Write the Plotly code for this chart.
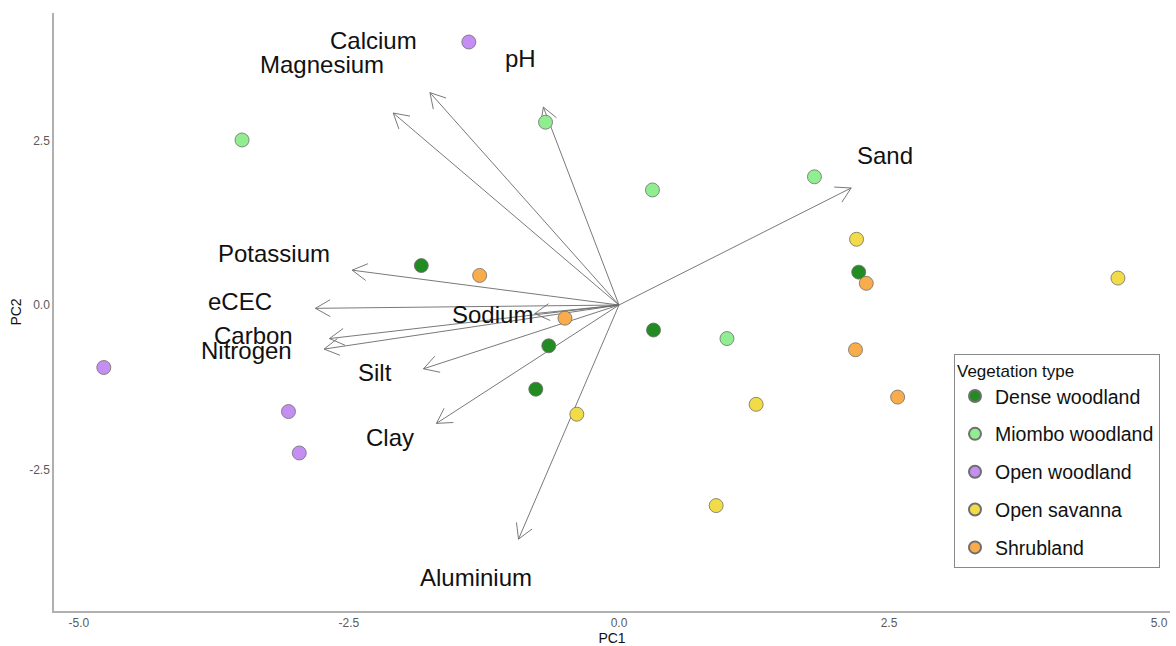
import math
import plotly.graph_objects as go

# ---------------- data ----------------
groups = ["Dense woodland", "Miombo woodland", "Open woodland", "Open savanna", "Shrubland"]
group_colors = ["#228B22", "#90EE90", "#C48EF2", "#F1DC48", "#F9AC4C"]

dense_x = [-1.83, 2.22, 0.32, -0.65, -0.77]
dense_y = [0.60, 0.50, -0.38, -0.62, -1.28]
miombo_x = [-3.49, -0.68, 0.31, 1.81, 1.00]
miombo_y = [2.51, 2.78, 1.75, 1.95, -0.51]
openwood_x = [-1.39, -4.77, -3.06, -2.96]
openwood_y = [4.00, -0.95, -1.62, -2.25]
savanna_x = [2.20, 4.62, -0.39, 1.27, 0.90]
savanna_y = [1.00, 0.41, -1.66, -1.51, -3.05]
shrub_x = [2.29, -1.29, -0.50, 2.19, 2.58]
shrub_y = [0.33, 0.45, -0.20, -0.68, -1.40]

variables = ["Calcium", "Magnesium", "pH", "Sand", "Potassium", "eCEC", "Carbon",
             "Nitrogen", "Sodium", "Silt", "Clay", "Aluminium"]
load_x = [-1.75, -2.09, -0.70, 2.15, -2.47, -2.81, -2.68, -2.73, -0.78, -1.81, -1.69, -0.93]
load_y = [3.23, 2.92, 3.01, 1.78, 0.53, -0.05, -0.51, -0.67, -0.13, -0.97, -1.80, -3.56]
label_x = [-2.27, -2.75, -0.91, 2.46, -3.19, -3.51, -3.38, -3.45, -1.17, -2.26, -2.12, -1.32]
label_y = [4.02, 3.66, 3.75, 2.28, 0.79, 0.06, -0.47, -0.69, -0.14, -1.03, -2.02, -4.14]

x_ticks = [-5.0, -2.5, 0.0, 2.5, 5.0]
y_ticks = [-2.5, 0.0, 2.5]

# ---------------- layout geometry ----------------
W, H = 1176, 646
ML, MR, MT, MB = 54, 6, 13, 31
x_range = [-5.231, 5.102]
y_range = [-4.653, 4.441]
px_per_x = (W - ML - MR) / (x_range[1] - x_range[0])
px_per_y = (H - MT - MB) / (y_range[1] - y_range[0])

fig = go.Figure()

# ---------------- arrows (shaft + open head) ----------------
head_len = 17.0
head_ang = math.radians(30)
ax_all, ay_all = [], []
for lx, ly in zip(load_x, load_y):
    ax_all += [0, lx, None]
    ay_all += [0, ly, None]
    dxp = -lx * px_per_x
    dyp = -ly * px_per_y
    n = math.hypot(dxp, dyp)
    ux, uy = dxp / n, dyp / n
    for s in (1, -1):
        c, si = math.cos(s * head_ang), math.sin(s * head_ang)
        rx = ux * c - uy * si
        ry = ux * si + uy * c
        ax_all += [lx, lx + rx * head_len / px_per_x, None]
        ay_all += [ly, ly + ry * head_len / px_per_y, None]

fig.add_trace(go.Scatter(x=ax_all, y=ay_all, mode="lines",
                         line=dict(color="#6a6a6a", width=0.9),
                         hoverinfo="skip", showlegend=False))

# ---------------- points ----------------
series = [(dense_x, dense_y), (miombo_x, miombo_y), (openwood_x, openwood_y),
          (savanna_x, savanna_y), (shrub_x, shrub_y)]
for name, col, (xs, ys) in zip(groups, group_colors, series):
    fig.add_trace(go.Scatter(
        x=xs, y=ys, mode="markers", name=name, legendgroup=name,
        marker=dict(size=14, color=col, line=dict(color="#6f6f6f", width=0.8)),
    ))

# ---------------- variable labels ----------------
for name, tx, ty in zip(variables, label_x, label_y):
    fig.add_annotation(x=tx, y=ty, text=name, showarrow=False,
                       font=dict(family="Arial, Liberation Sans", size=24, color="#111111"),
                       xanchor="center", yanchor="middle")

axis_common = dict(showgrid=False, zeroline=False, showline=True,
                   linecolor="#b0b0b0", linewidth=1.5, ticks="",
                   tickfont=dict(family="Arial, Liberation Sans", size=12, color="#5a5a5a"),
                   title_font=dict(family="Arial, Liberation Sans", size=14, color="#111111"))

fig.update_layout(
    width=W, height=H,
    margin=dict(l=ML, r=MR, t=MT, b=MB),
    paper_bgcolor="white", plot_bgcolor="white",
    xaxis=dict(range=x_range, tickvals=x_ticks, ticktext=[f"{v:.1f}" for v in x_ticks],
               title=dict(text="PC1", standoff=0), **axis_common),
    yaxis=dict(range=y_range, tickvals=y_ticks, ticktext=[f"{v:.1f}" for v in y_ticks],
               title=dict(text="PC2", standoff=4), **axis_common),
    legend=dict(
        title=dict(text="Vegetation type", font=dict(family="Arial, Liberation Sans", size=17, color="#111111")),
        font=dict(family="Arial, Liberation Sans", size=19.5, color="#111111"),
        x=(954 - ML) / (W - ML - MR), xanchor="left",
        y=1 - (356 - MT) / (H - MT - MB), yanchor="top",
        bordercolor="#888888", borderwidth=1, bgcolor="white",
        tracegroupgap=9.5, itemsizing="constant",
    ),
    showlegend=True,
)

fig.write_html("out.html")
